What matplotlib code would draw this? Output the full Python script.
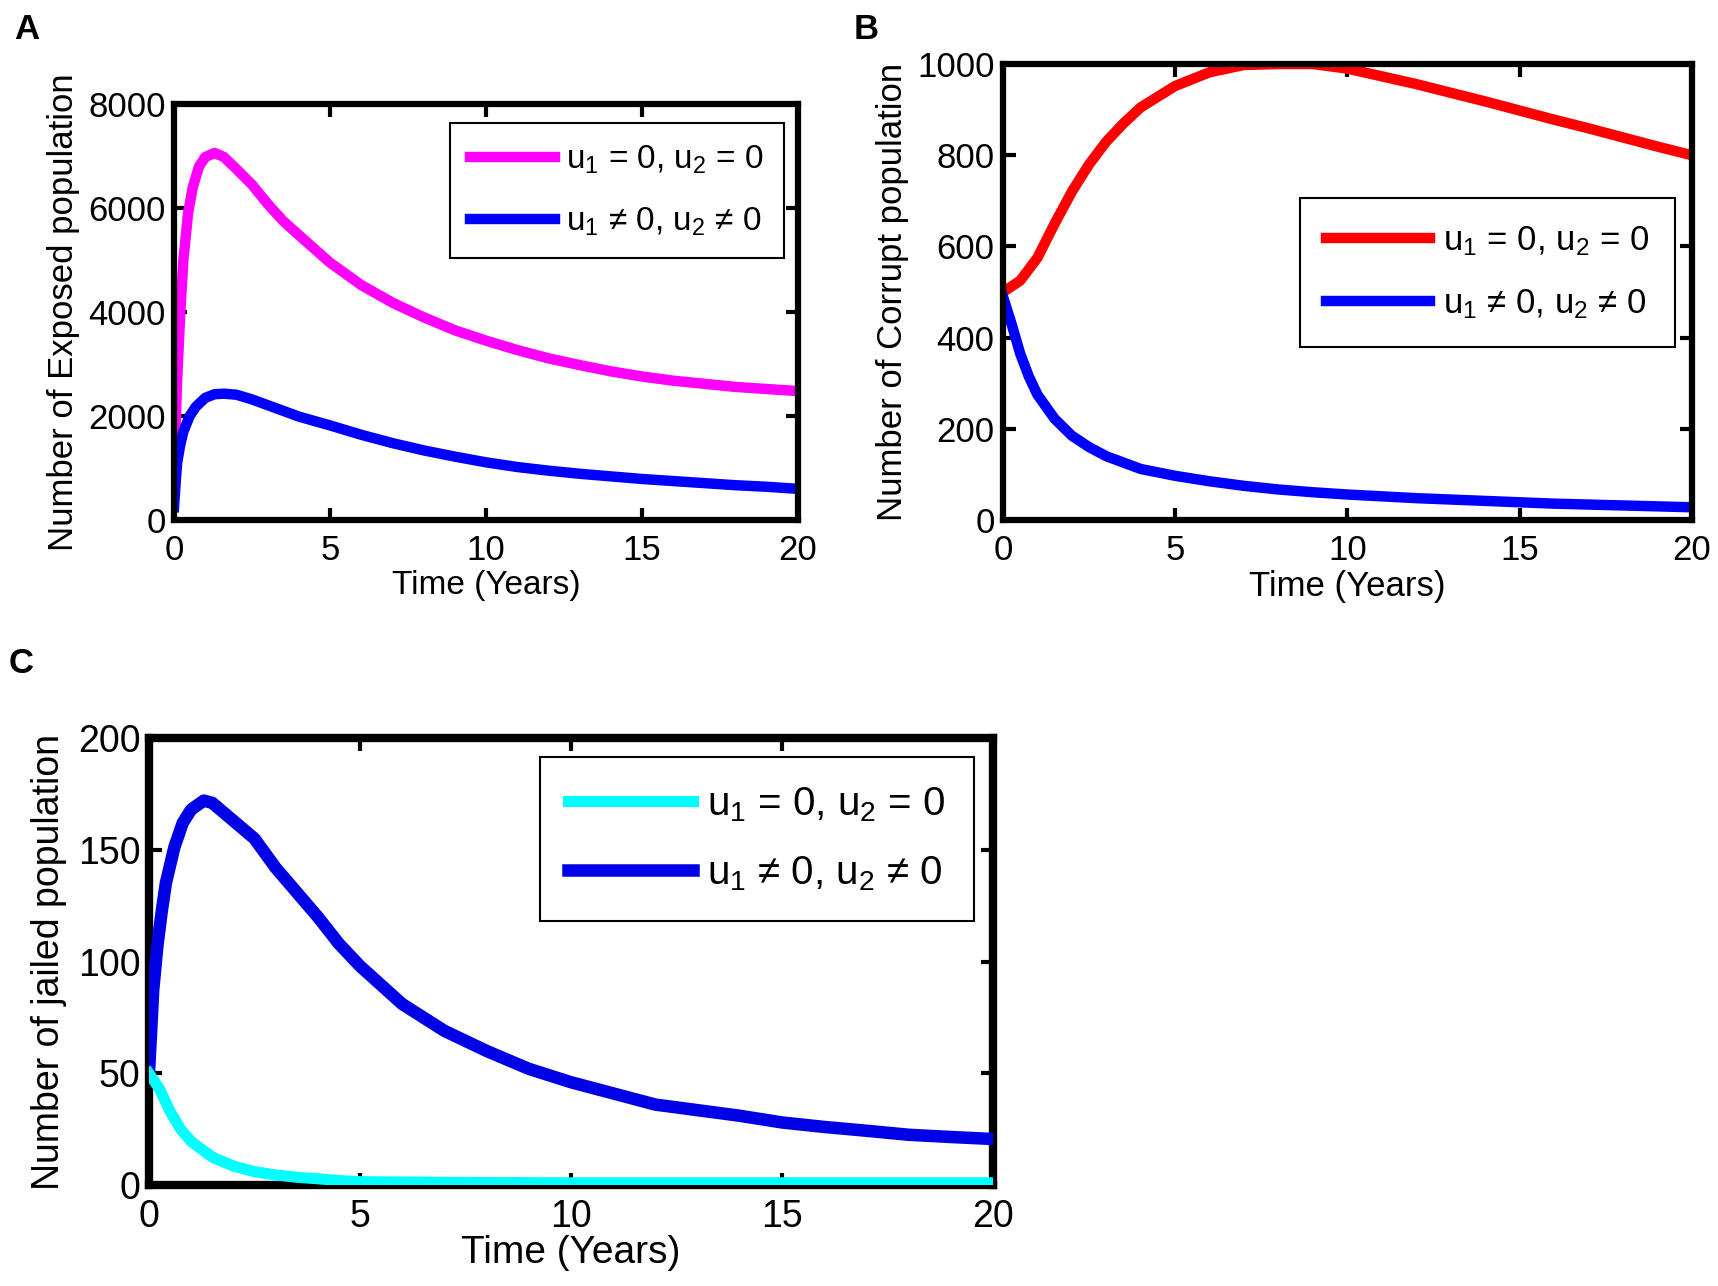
import matplotlib
matplotlib.use("Agg")
import matplotlib.pyplot as plt

plt.rcParams['font.family'] = ['Liberation Sans', 'DejaVu Sans']
plt.rcParams['mathtext.default'] = 'regular'

FONT = ['Liberation Sans', 'DejaVu Sans']

# ---- data ----
lab_off = 'u$_1$ = 0, u$_2$ = 0'
lab_on = 'u$_1$ \u2260 0, u$_2$ \u2260 0'

# A: exposed
tA_off = [0, 0.05, 0.1, 0.2, 0.3, 0.45, 0.6, 0.8, 1.0, 1.3, 1.6, 2.0, 2.5, 3.0, 3.5, 4, 5, 6, 7, 8,
          9, 10, 11, 12, 13, 14, 15, 16, 17, 18, 19, 20]
eA_off = [900, 1800, 2700, 4000, 5000, 5900, 6400, 6800, 6980, 7060, 6980, 6750, 6450, 6080, 5750, 5480,
          4950, 4520, 4180, 3900, 3650, 3450, 3270, 3110, 2980, 2860, 2760, 2680, 2620, 2560, 2520, 2480]
tA_on = [0, 0.05, 0.1, 0.2, 0.3, 0.5, 0.7, 1.0, 1.3, 1.6, 2.0, 2.5, 3, 4, 5, 6, 7, 8, 9, 10,
         11, 12, 13, 14, 15, 16, 17, 18, 19, 20]
eA_on = [250, 700, 1100, 1450, 1700, 2000, 2180, 2350, 2420, 2430, 2410, 2320, 2210, 1990, 1820, 1640,
         1480, 1340, 1220, 1110, 1020, 950, 890, 840, 790, 750, 710, 670, 640, 600]

# B: corrupt
tB_off = [0, 0.5, 1, 1.5, 2, 2.5, 3, 3.5, 4, 5, 6, 7, 8, 9, 10, 11, 12, 13, 14, 15, 16, 17, 18, 19, 20]
cB_off = [500, 525, 575, 650, 720, 780, 830, 870, 905, 952, 982, 998, 1000, 1000, 990, 973, 956, 937,
          918, 898, 878, 859, 839, 819, 800]
tB_on = [0, 0.25, 0.5, 0.75, 1, 1.5, 2, 2.5, 3, 4, 5, 6, 7, 8, 9, 10, 11, 12, 13, 14, 15, 16, 17, 18, 19, 20]
cB_on = [490, 430, 365, 315, 275, 222, 185, 160, 140, 112, 97, 85, 75, 67, 61, 56, 52, 48, 45, 42,
         39, 36, 34, 32, 30, 28]

# C: jailed
tC_off = [0, 0.25, 0.5, 0.75, 1, 1.5, 2, 2.5, 3, 3.5, 4, 4.5, 5, 7, 10, 15, 20]
jC_off = [50, 43, 33, 25, 19.5, 12.5, 8.5, 6, 4.5, 3.5, 2.8, 2, 1.5, 1.2, 1, 1, 1]
tC_on = [0, 0.05, 0.1, 0.2, 0.3, 0.4, 0.6, 0.8, 1.0, 1.3, 1.5, 2, 2.5, 3, 3.5, 4, 4.5, 5, 6, 7, 8,
         9, 10, 11, 12, 13, 14, 15, 16, 17, 18, 19, 20]
jC_on = [50, 68, 87, 107, 122, 135, 151, 162, 168, 172, 171, 163, 155, 142, 131, 120, 108, 98, 81, 69,
         60, 52, 46, 41, 36, 33.5, 31, 28, 26, 24.3, 22.5, 21.5, 20.6]

x_ticks = [0, 5, 10, 15, 20]


def style_axes(ax, yticks, ylim, spine_w, tick_size):
    ax.set_xlim(0, 20)
    ax.set_ylim(*ylim)
    ax.set_xticks(x_ticks)
    ax.set_yticks(yticks)
    for s in ax.spines.values():
        s.set_linewidth(spine_w)
    ax.tick_params(direction='in', length=9, width=3, top=True, right=True,
                   labelsize=tick_size)
    ax.tick_params(axis='x', pad=10)
    ax.tick_params(axis='y', pad=6)


def add_legend(ax, handles, labels, anchor, fsize, hlen, lspace=0.9, bpad=0.8):
    leg = ax.legend(handles, labels, loc='upper right', bbox_to_anchor=anchor, borderaxespad=0,
                    fancybox=False, edgecolor='black', framealpha=1,
                    prop={'family': FONT, 'size': fsize}, handlelength=hlen,
                    handletextpad=0.35, labelspacing=lspace, borderpad=bpad)
    leg.get_frame().set_linewidth(1.5)
    return leg


fig = plt.figure(figsize=(17.18, 12.86), dpi=100)

# ---- A ----
axA = fig.add_axes([0.1013, 0.5956, 0.3632, 0.3235])
lA1, = axA.plot(tA_off, eA_off, color='#ff00ff', lw=7.5)
lA2, = axA.plot(tA_on, eA_on, color='#0000ff', lw=7.5)
style_axes(axA, [0, 2000, 4000, 6000, 8000], (0, 8000), 4.5, 25)
axA.set_xlabel('Time (Years)', fontsize=24, labelpad=2)
axA.set_ylabel('Number of Exposed population', fontsize=25, labelpad=6)
add_legend(axA, [lA1, lA2], [lab_off, lab_on], (0.978, 0.954), 24, 2.55, 0.9, 0.6)

# ---- B ----
axB = fig.add_axes([0.5838, 0.5956, 0.4010, 0.3546])
lB1, = axB.plot(tB_off, cB_off, color='#ff0000', lw=7.5)
lB2, = axB.plot(tB_on, cB_on, color='#0000ff', lw=7.5)
style_axes(axB, [0, 200, 400, 600, 800, 1000], (0, 1000), 4.5, 25)
axB.set_xlabel('Time (Years)', fontsize=25, labelpad=2)
axB.set_ylabel('Number of Corrupt population', fontsize=25, labelpad=6)
add_legend(axB, [lB1, lB2], [lab_off, lab_on], (0.975, 0.706), 25, 3.0, 0.85, 0.75)

# ---- C ----
axC = fig.add_axes([0.0867, 0.0785, 0.4913, 0.3476])
lC2, = axC.plot(tC_on, jC_on, color='#0000e6', lw=9, zorder=3)
lC1, = axC.plot(tC_off, jC_off, color='#00ffff', lw=8, zorder=4)
style_axes(axC, [0, 50, 100, 150, 200], (0, 200), 6, 27)
axC.set_xlabel('Time (Years)', fontsize=28, labelpad=0)
axC.set_ylabel('Number of jailed population', fontsize=27, labelpad=8)
add_legend(axC, [lC1, lC2], [lab_off, lab_on], (0.977, 0.957), 29, 3.1, 0.75, 0.7)

# panel letters
fig.text(0.008, 0.99, 'A', fontsize=25, fontweight='bold', va='top')
fig.text(0.497, 0.99, 'B', fontsize=25, fontweight='bold', va='top')
fig.text(0.005, 0.497, 'C', fontsize=25, fontweight='bold', va='top')

fig.savefig('out.png', dpi=100)
